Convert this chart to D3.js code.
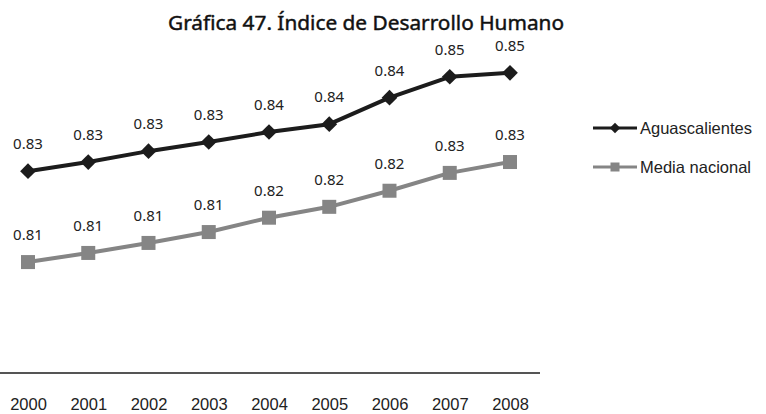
<!DOCTYPE html>
<html>
<head>
<meta charset="utf-8">
<script src="https://cdn.jsdelivr.net/npm/d3@7"></script>
<style>
  html, body { margin: 0; padding: 0; background: #fff; }
  svg { display: block; }
</style>
</head>
<body>
<svg id="chart" width="766" height="414"></svg>
<script>
// Índice de Desarrollo Humano, 2000–2008
const years = ["2000", "2001", "2002", "2003", "2004", "2005", "2006", "2007", "2008"];
const aguascalientes = [0.8264, 0.8285, 0.8310, 0.8331, 0.8354, 0.8372, 0.8433, 0.8481, 0.8490];
const mediaNacional = [0.8055, 0.8076, 0.8099, 0.8124, 0.8157, 0.8182, 0.8219, 0.8260, 0.8285];
const seriesNames = ["Aguascalientes", "Media nacional"];

const svg = d3.select("#chart");

const x = d3.scalePoint().domain(years).range([28, 510]);
const y = d3.scaleLinear().domain([0.78, 0.86]).range([373, 25]);
const fmt = d3.format(".2f");

const series = [
  { name: seriesNames[0], values: aguascalientes, color: "#1c1c1c", marker: "diamond" },
  { name: seriesNames[1], values: mediaNacional, color: "#858585", marker: "square" }
];

// Title (slight stroke for a medium weight)
svg.append("text")
  .attr("x", 366).attr("y", 30)
  .attr("text-anchor", "middle")
  .attr("font-family", "'Noto Sans', sans-serif")
  .attr("font-size", 20)
  .attr("fill", "#111")
  .attr("stroke", "#111")
  .attr("stroke-width", 0.45)
  .attr("textLength", 396)
  .attr("lengthAdjust", "spacingAndGlyphs")
  .text("Gráfica 47. Índice de Desarrollo Humano");

// Horizontal axis
const xAxis = d3.axisBottom(x).tickSize(0).tickPadding(25);
const gx = svg.append("g").attr("transform", "translate(0,373)").call(xAxis);
gx.select(".domain").remove();
gx.append("line")
  .attr("x1", 0).attr("x2", 540)
  .attr("stroke", "#555").attr("stroke-width", 2);
gx.selectAll(".tick text")
  .attr("font-family", "'Liberation Sans', Arial, sans-serif")
  .attr("font-size", 16.5)
  .attr("fill", "#222")
  .attr("dy", "0.71em");

const line = d3.line().x((d, i) => x(years[i])).y(d => y(d));

function drawMarker(g, type, color, cx, cy, s) {
  if (type === "diamond") {
    g.append("path")
      .attr("d", d3.symbol().type(d3.symbolDiamond2).size(s * s * 0.5 * 1.4)())
      .attr("transform", `translate(${cx},${cy})`)
      .attr("fill", color);
  } else {
    g.append("rect")
      .attr("x", cx - s / 2).attr("y", cy - s / 2)
      .attr("width", s).attr("height", s)
      .attr("fill", color);
  }
}

series.forEach(s => {
  const g = svg.append("g");
  g.append("path")
    .datum(s.values)
    .attr("d", line)
    .attr("fill", "none")
    .attr("stroke", s.color)
    .attr("stroke-width", 4)
    .attr("stroke-linejoin", "round");
  s.values.forEach((v, i) => {
    drawMarker(g, s.marker, s.color, x(years[i]), y(v), s.marker === "diamond" ? 15 : 14);
    g.append("text")
      .attr("x", x(years[i])).attr("y", y(v) - 22)
      .attr("text-anchor", "middle")
      .attr("font-family", "'Noto Sans', sans-serif")
      .attr("font-size", 15)
      .attr("fill", "#222")
      .text(fmt(v));
  });
});

// Legend
const legend = svg.append("g");
series.forEach((s, i) => {
  const ly = 128 + i * 39;
  legend.append("line")
    .attr("x1", 593).attr("x2", 637)
    .attr("y1", ly).attr("y2", ly)
    .attr("stroke", s.color).attr("stroke-width", 3);
  drawMarker(legend, s.marker, s.color, 615, ly, s.marker === "diamond" ? 10 : 9);
  legend.append("text")
    .attr("x", 640).attr("y", ly)
    .attr("dy", "0.35em")
    .attr("font-family", "'Liberation Sans', Arial, sans-serif")
    .attr("font-size", 16.5)
    .attr("fill", "#222")
    .text(s.name);
});
</script>
</body>
</html>
